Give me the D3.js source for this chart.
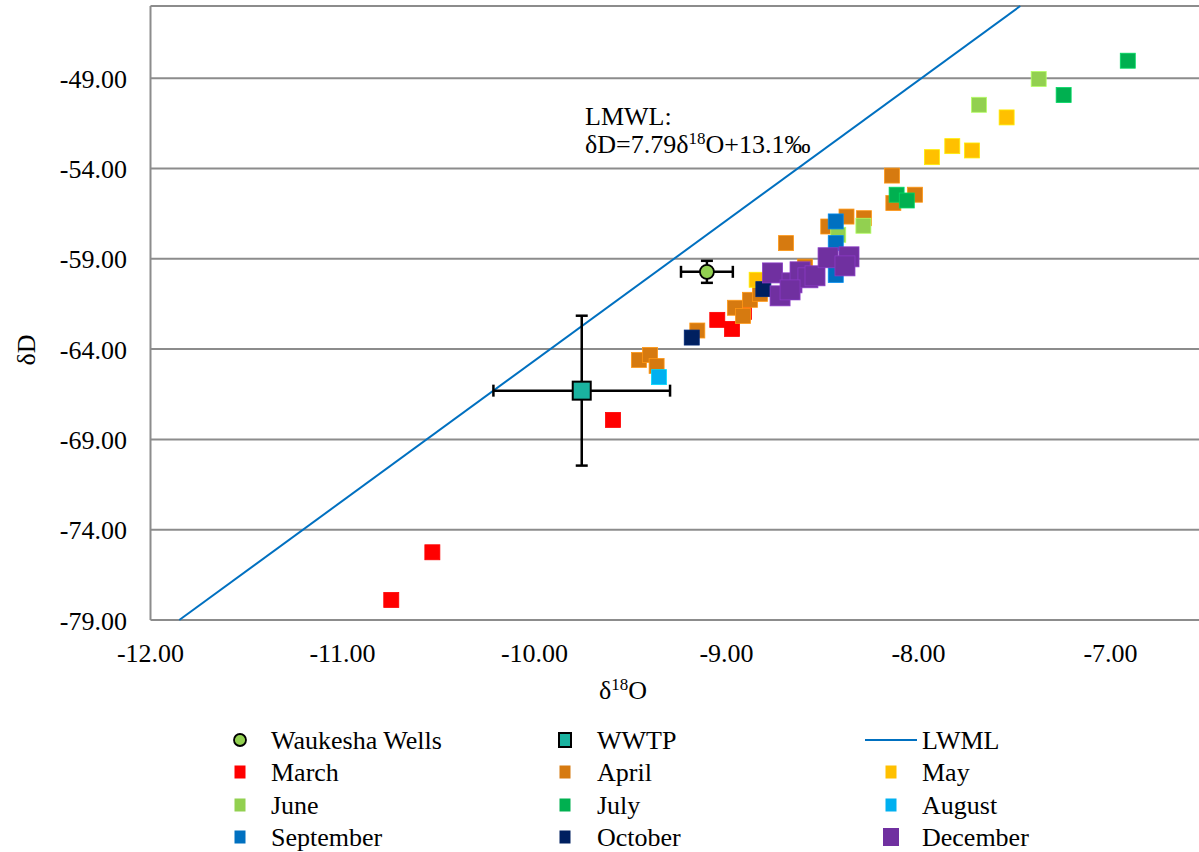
<!DOCTYPE html>
<html><head><meta charset="utf-8">
<script src="https://cdn.jsdelivr.net/npm/d3@7/dist/d3.min.js"></script>
<style>
html,body{margin:0;padding:0;background:#fff;font-family:"Liberation Serif","Times New Roman",serif;}
</style></head>
<body>
<svg id="chart" width="1199" height="852"></svg>
<script>
// ---------- data ----------
const xTicks = [-12, -11, -10, -9, -8, -7];
const yTicks = [-79, -74, -69, -64, -59, -54, -49];

const monthNames = ["March","April","May","June","July","August","September","October","December"];
const monthColors = ["#FF0000","#D67A10","#FFC000","#92D050","#00B050","#00B0F0","#0070C0","#002060","#7030A0"];

const marchX = [-10.746, -10.532, -9.591, -9.048, -8.971, -8.909];
const marchY = [-77.89, -75.25, -67.92, -62.38, -62.88, -61.94];
const aprilX = [-9.456, -9.398, -9.364, -9.152, -8.956, -8.914, -8.878, -8.826, -8.690, -8.591, -8.470, -8.375, -8.284, -8.138, -8.131, -8.018];
const aprilY = [-64.60, -64.32, -64.93, -62.97, -61.71, -62.16, -61.27, -60.94, -58.13, -59.43, -57.21, -56.66, -56.75, -54.39, -55.91, -55.45];
const mayX = [-7.930, -7.824, -7.721, -7.541, -8.843];
const mayY = [-53.37, -52.76, -53.00, -51.17, -60.16];
const juneX = [-7.685, -7.374, -8.287, -8.418];
const juneY = [-50.47, -49.04, -57.17, -57.67];
const julyX = [-6.910, -7.244, -8.114, -8.061];
const julyY = [-48.03, -49.93, -55.45, -55.77];
const augustX = [-9.352];
const augustY = [-65.55];
const septemberX = [-8.431, -8.431, -8.431];
const septemberY = [-56.93, -58.13, -59.89];
const octoberX = [-9.181, -8.808, -8.664];
const octoberY = [-63.36, -60.68, -60.83];
const decemberX = [-8.760, -8.721, -8.659, -8.617, -8.576, -8.539, -8.471, -8.362, -8.383, -8.669];
const decemberY = [-59.78, -61.05, -60.33, -59.72, -60.05, -59.94, -58.94, -58.89, -59.39, -60.72];

const wellsX = [-9.102], wellsY = [-59.72], wellsErrX = [0.135], wellsErrY = [0.61];
const wwtpX = [-9.754], wwtpY = [-66.30], wwtpErrX = [0.46], wwtpErrY = [4.15];

const lmwlX = [-11.85, -7.47];
const lmwlY = [-79, -45];

const legendLabels = ["Waukesha Wells","WWTP","LWML","March","April","May","June","July","August","September","October","December"];

// ---------- chart ----------
const svg = d3.select("#chart");
const x = d3.scaleLinear().domain([-12, -6.5]).range([150.5, 1206.5]);
const y = d3.scaleLinear().domain([-79, -45]).range([620, 6]);
const gridColor = "#8c8c8c";
const FS = 26;
const fmt = d => d.toFixed(2);
function txt(sel) {
  return sel.attr("font-family", "Liberation Serif").attr("fill", "#000");
}

// gridlines
svg.append("g").selectAll("line").data(yTicks).join("line")
  .attr("x1", x(-12)).attr("x2", 1199)
  .attr("y1", d => y(d)).attr("y2", d => y(d))
  .attr("stroke", gridColor).attr("stroke-width", 2);
// top border
svg.append("line").attr("x1", x(-12)).attr("x2", 1199).attr("y1", y(-45)).attr("y2", y(-45))
  .attr("stroke", gridColor).attr("stroke-width", 2);
// left axis line
svg.append("line").attr("x1", x(-12)).attr("x2", x(-12)).attr("y1", y(-45)).attr("y2", y(-79))
  .attr("stroke", gridColor).attr("stroke-width", 2);

// tick labels
txt(svg.append("g").selectAll("text").data(yTicks).join("text"))
  .attr("x", 127).attr("y", d => y(d) + 9.5)
  .attr("text-anchor", "end").attr("font-size", FS)
  .text(fmt);
txt(svg.append("g").selectAll("text").data(xTicks).join("text"))
  .attr("x", d => x(d)).attr("y", 662)
  .attr("text-anchor", "middle").attr("font-size", FS)
  .text(fmt);

// axis titles
const xt = txt(svg.append("text")).attr("x", 623).attr("y", 699).attr("text-anchor", "middle").attr("font-size", FS);
xt.append("tspan").text("δ");
xt.append("tspan").attr("font-size", 17).attr("dy", -9).text("18");
xt.append("tspan").attr("dy", 9).text("O");
txt(svg.append("text")).attr("transform", "translate(35,350) rotate(-90)")
  .attr("text-anchor", "middle").attr("font-size", FS).text("δD");

// LMWL line
const line = d3.line().x(d => x(d[0])).y(d => y(d[1]));
svg.append("path").datum(d3.zip(lmwlX, lmwlY)).attr("d", line)
  .attr("fill", "none").attr("stroke", "#0070C0").attr("stroke-width", 2);

// annotation
txt(svg.append("text")).attr("x", 585).attr("y", 125).attr("font-size", FS).text("LMWL:");
const ann = txt(svg.append("text")).attr("x", 585).attr("y", 153).attr("font-size", FS);
ann.append("tspan").text("δD=7.79δ");
ann.append("tspan").attr("font-size", 17).attr("dy", -9).text("18");
ann.append("tspan").attr("dy", 9).text("O+13.1‰");

// error bars
function errorBars(xs, ys, ex, ey, cap) {
  const g = svg.append("g").attr("stroke", "#000").attr("stroke-width", 2.5);
  xs.forEach((xv, i) => {
    const yv = ys[i];
    g.append("line").attr("x1", x(xv - ex[i])).attr("x2", x(xv + ex[i])).attr("y1", y(yv)).attr("y2", y(yv));
    g.append("line").attr("x1", x(xv)).attr("x2", x(xv)).attr("y1", y(yv - ey[i])).attr("y2", y(yv + ey[i]));
    [xv - ex[i], xv + ex[i]].forEach(e => g.append("line").attr("x1", x(e)).attr("x2", x(e)).attr("y1", y(yv) - cap).attr("y2", y(yv) + cap));
    [yv - ey[i], yv + ey[i]].forEach(e => g.append("line").attr("x1", x(xv) - cap).attr("x2", x(xv) + cap).attr("y1", y(e)).attr("y2", y(e)));
  });
}
errorBars(wwtpX, wwtpY, wwtpErrX, wwtpErrY, 6);
errorBars(wellsX, wellsY, wellsErrX, wellsErrY, 6);

// WWTP
svg.append("g").selectAll("rect").data(d3.zip(wwtpX, wwtpY)).join("rect")
  .attr("x", d => x(d[0]) - 9).attr("y", d => y(d[1]) - 9).attr("width", 18).attr("height", 18)
  .attr("fill", "#1AB3A0").attr("stroke", "#000").attr("stroke-width", 2);
// Wells
svg.append("g").selectAll("circle").data(d3.zip(wellsX, wellsY)).join("circle")
  .attr("cx", d => x(d[0])).attr("cy", d => y(d[1])).attr("r", 7)
  .attr("fill", "#92D050").attr("stroke", "#000").attr("stroke-width", 1.8);

// month series
const monthX = [marchX, aprilX, mayX, juneX, julyX, augustX, septemberX, octoberX, decemberX];
const monthY = [marchY, aprilY, mayY, juneY, julyY, augustY, septemberY, octoberY, decemberY];
monthX.forEach((xs, i) => {
  const s = monthNames[i] === "December" ? 20 : 15;
  svg.append("g").selectAll("rect").data(d3.zip(xs, monthY[i])).join("rect")
    .attr("x", d => x(d[0]) - s / 2).attr("y", d => y(d[1]) - s / 2)
    .attr("width", s).attr("height", s)
    .attr("fill", monthColors[i])
    .attr("stroke", d3.color(monthColors[i]).brighter(0.6)).attr("stroke-width", 0.8);
});

// legend
const colX = [240, 565, 891], textX = [271, 597, 922], rowY = [740, 772, 805, 837];
legendLabels.forEach((lab, i) => {
  const c = i % 3, r = Math.floor(i / 3);
  const cx = colX[c], cy = rowY[r];
  if (lab === "Waukesha Wells") {
    svg.append("circle").attr("cx", cx).attr("cy", cy).attr("r", 6)
      .attr("fill", "#92D050").attr("stroke", "#000").attr("stroke-width", 1.8);
  } else if (lab === "WWTP") {
    svg.append("rect").attr("x", cx - 6).attr("y", cy - 7).attr("width", 12).attr("height", 14)
      .attr("fill", "#1AB3A0").attr("stroke", "#000").attr("stroke-width", 2);
  } else if (lab === "LWML") {
    svg.append("line").attr("x1", 865).attr("x2", 917).attr("y1", cy).attr("y2", cy)
      .attr("stroke", "#0070C0").attr("stroke-width", 2);
  } else {
    const mi = monthNames.indexOf(lab);
    const w = lab === "December" ? 16 : 11, h = lab === "December" ? 18 : 13;
    svg.append("rect").attr("x", cx - w / 2).attr("y", cy - h / 2).attr("width", w).attr("height", h)
      .attr("fill", monthColors[mi]);
  }
  txt(svg.append("text")).attr("x", textX[c]).attr("y", cy + 9).attr("font-size", FS).text(lab);
});
</script>
</body></html>
